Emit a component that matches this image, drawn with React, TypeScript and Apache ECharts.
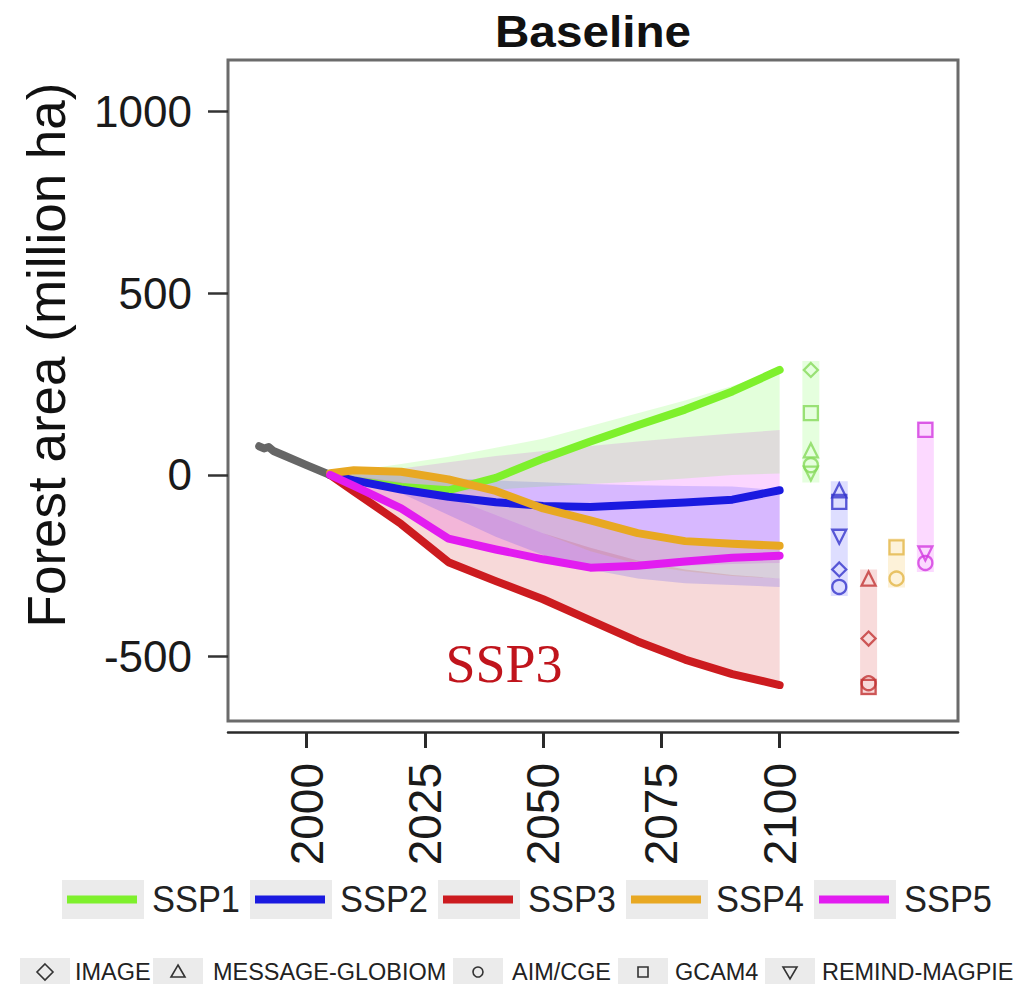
import React, { useEffect, useRef } from "react";
import * as echarts from "echarts";

// ---------- data ----------
const histYears = [1990, 1991, 1992, 1993, 1995, 2000, 2005];
const histValues = [79, 73, 77, 66, 55, 27, 0];

const years = [2005, 2010, 2020, 2030, 2040, 2050, 2060, 2070, 2080, 2090, 2100];

const sspNames = ["SSP1", "SSP2", "SSP3", "SSP4", "SSP5"];

const ssp1Line = [0, -16, -33, -42, -8, 45, 92, 137, 180, 230, 289];
const ssp2Line = [0, -15, -40, -60, -75, -85, -88, -82, -76, -68, -42];
const ssp3Line = [0, -45, -135, -240, -292, -342, -400, -458, -508, -548, -578];
const ssp4Line = [5, 13, 9, -12, -44, -92, -125, -160, -182, -189, -195];
const ssp5Line = [0, -30, -92, -175, -205, -232, -255, -250, -238, -228, -222];

const ssp1Hi = [0, 12, 30, 50, 75, 100, 135, 170, 205, 245, 289];
const ssp1Lo = [0, -16, -33, -44, -40, -32, -25, -18, -10, 0, 4];
const ssp2Hi = [0, 2, 0, -8, -15, -20, -25, -28, -30, -32, -42];
const ssp2Lo = [0, -15, -50, -110, -170, -220, -260, -285, -298, -303, -308];
const ssp3Hi = [0, -3, -20, -60, -110, -160, -200, -235, -260, -275, -285];
const ssp3Lo = [0, -48, -140, -245, -298, -348, -405, -462, -512, -552, -583];
const ssp4Hi = [5, 14, 11, -10, -40, -85, -120, -155, -178, -187, -193];
const ssp4Lo = [0, -5, -25, -60, -110, -160, -210, -245, -265, -278, -285];
const ssp5Hi = [0, 5, 18, 35, 52, 66, 80, 92, 104, 114, 124];
const ssp5Lo = [0, -30, -95, -178, -208, -235, -258, -258, -250, -245, -242];

// 2100 values per model: IMAGE, MESSAGE-GLOBIOM, AIM/CGE, GCAM4, REMIND-MAGPIE
const modelNames = ["IMAGE", "MESSAGE-GLOBIOM", "AIM/CGE", "GCAM4", "REMIND-MAGPIE"];
const ssp1End = [289, 68, 27, 170, 4];
const ssp2End = [-260, -42, -308, -74, -170];
const ssp3End = [-450, -285, -573, -583, null];
const ssp4End = [null, null, -285, -199, null];
const ssp5End = [null, null, -242, 124, -216];
const markerX = [2106.6, 2112.6, 2118.8, 2124.7, 2130.8];

const xTicks = [2000, 2025, 2050, 2075, 2100];
const yTicks = [-500, 0, 500, 1000];

// ---------- styling ----------
const sspColors = ["#7ef02c", "#1a1ae0", "#cc1b1f", "#e8a822", "#e21cf0"];
const bandColors = ["#50ff20", "#2020ff", "#d01010", "#f0a800", "#e800ff"];
const markerColors = ["#86d95a", "#3434cc", "#c23434", "#e2b546", "#d23ae0"];
const modelSymbols = ["diamond", "triangle", "circle", "rect", "triangle"];
const modelRotate = [0, 0, 0, 0, 180];
const FONT = "'Liberation Sans', Arial, Helvetica, sans-serif";

function rgba(hex: string, a: number) {
  const r = parseInt(hex.slice(1, 3), 16);
  const g = parseInt(hex.slice(3, 5), 16);
  const b = parseInt(hex.slice(5, 7), 16);
  return `rgba(${r},${g},${b},${a})`;
}

const lines = [ssp1Line, ssp2Line, ssp3Line, ssp4Line, ssp5Line];
const bandsHi = [ssp1Hi, ssp2Hi, ssp3Hi, ssp4Hi, ssp5Hi];
const bandsLo = [ssp1Lo, ssp2Lo, ssp3Lo, ssp4Lo, ssp5Lo];
const ends = [ssp1End, ssp2End, ssp3End, ssp4End, ssp5End];

export default function App() {
  const ref = useRef<HTMLDivElement>(null);
  useEffect(() => {
    if (!ref.current) return;
    const chart = echarts.init(ref.current, undefined, { renderer: "svg" });

    const series: any[] = [];

    // bands (drawn in this order so that overlaps blend towards grey)
    [4, 2, 3, 1, 0].forEach((i) => {
      series.push({
        type: "custom",
        name: sspNames[i] + " range",
        data: [[2050, 0]],
        z: 1,
        silent: true,
        renderItem: (params: any, api: any) => {
          const pts: number[][] = [];
          for (let k = 0; k < years.length; k++) pts.push(api.coord([years[k], bandsHi[i][k]]));
          for (let k = years.length - 1; k >= 0; k--) pts.push(api.coord([years[k], bandsLo[i][k]]));
          return {
            type: "polygon",
            shape: { points: pts },
            style: { fill: rgba(bandColors[i], 0.16), stroke: null },
          };
        },
      });
    });

    // range bars at right
    sspNames.forEach((name, i) => {
      const vals = ends[i].filter((v) => v !== null) as number[];
      const lo = Math.min(...vals);
      const hi = Math.max(...vals);
      series.push({
        type: "custom",
        name: name + " 2100 range",
        data: [[markerX[i], lo, hi]],
        z: 1,
        silent: true,
        renderItem: (params: any, api: any) => {
          const p1 = api.coord([api.value(0), api.value(1)]);
          const p2 = api.coord([api.value(0), api.value(2)]);
          return {
            type: "rect",
            shape: { x: p1[0] - 8.5, y: p2[1] - 9, width: 17, height: p1[1] - p2[1] + 18 },
            style: { fill: rgba(bandColors[i], 0.15) },
          };
        },
      });
    });

    // historical
    series.push({
      type: "line",
      name: "Historical",
      data: histYears.map((y, k) => [y, histValues[k]]),
      showSymbol: false,
      z: 3,
      lineStyle: { color: "#666666", width: 8, cap: "round", join: "round" },
    });

    // SSP lines
    [0, 1, 2, 3, 4].forEach((i) => {
      series.push({
        type: "line",
        name: sspNames[i],
        data: years.map((y, k) => [y, lines[i][k]]),
        showSymbol: false,
        z: 4 + i,
        lineStyle: { color: sspColors[i], width: 8, cap: "round", join: "round" },
      });
    });

    // model markers at right
    sspNames.forEach((name, i) => {
      const data: any[] = [];
      ends[i].forEach((v, m) => {
        if (v === null) return;
        data.push({
          value: [markerX[i], v],
          name: modelNames[m],
          symbol: modelSymbols[m],
          symbolRotate: modelRotate[m],
        });
      });
      series.push({
        type: "scatter",
        name: name + " models",
        data,
        z: 10,
        symbolSize: 14,
        itemStyle: { color: "rgba(255,255,255,0)", borderColor: markerColors[i], borderWidth: 2.3 },
      });
    });

    // graphics: title, y name, annotation, legends
    const graphics: any[] = [];
    graphics.push({
      type: "text",
      x: 593,
      y: 31,
      style: { text: "Baseline", fontFamily: FONT, fontSize: 45, fontWeight: "bold", fill: "#111", align: "center", verticalAlign: "middle" },
      scaleX: 1.06,
    });
    graphics.push({
      type: "text",
      x: 46,
      y: 355,
      rotation: Math.PI / 2,
      style: { text: "Forest area (million ha)", fontFamily: FONT, fontSize: 53, fill: "#111", align: "center", verticalAlign: "middle" },
    });
    graphics.push({
      type: "text",
      x: 504,
      y: 664,
      style: { text: "SSP3", fontFamily: "'Liberation Serif', 'Times New Roman', serif", fontSize: 54, fill: "#c0141c", align: "center", verticalAlign: "middle" },
    });

    sspNames.forEach((name, i) => {
      const bx = 62 + i * 188;
      graphics.push({ type: "rect", shape: { x: bx, y: 880, width: 82, height: 39 }, style: { fill: "#ebebeb" } });
      graphics.push({
        type: "line",
        shape: { x1: bx + 5, y1: 899.5, x2: bx + 75, y2: 899.5 },
        style: { stroke: sspColors[i], lineWidth: 8 },
      });
      graphics.push({
        type: "text",
        x: bx + 90,
        y: 900,
        scaleX: 0.93,
        style: { text: name, fontFamily: FONT, fontSize: 37, fill: "#222", verticalAlign: "middle" },
      });
    });

    const symX = [45, 178, 478, 643, 790];
    const textX = [75, 213, 512, 675, 822];
    const cy = 972;
    const symStyle = { fill: "none", stroke: "#333", lineWidth: 1.6 };
    modelNames.forEach((name, m) => {
      const sx = symX[m];
      graphics.push({ type: "rect", shape: { x: sx - 25, y: 958, width: 50, height: 26 }, style: { fill: "#ebebeb" } });
      graphics.push({
        type: "text",
        x: textX[m],
        y: cy,
        scaleX: 1.02,
        style: { text: name, fontFamily: FONT, fontSize: 23, fill: "#222", verticalAlign: "middle" },
      });
    });
    graphics.push({ type: "polygon", shape: { points: [[45, cy - 8], [53, cy], [45, cy + 8], [37, cy]] }, style: symStyle });
    graphics.push({ type: "polygon", shape: { points: [[178, cy - 7], [185, cy + 5], [171, cy + 5]] }, style: symStyle });
    graphics.push({ type: "circle", shape: { cx: 478, cy, r: 5 }, style: symStyle });
    graphics.push({ type: "rect", shape: { x: 638, y: cy - 5, width: 10, height: 10 }, style: symStyle });
    graphics.push({ type: "polygon", shape: { points: [[783, cy - 5], [797, cy - 5], [790, cy + 7]] }, style: symStyle });

    const axisText = { fontFamily: FONT, color: "#1a1a1a", formatter: (v: number) => String(v) };

    chart.setOption({
      animation: false,
      backgroundColor: "#ffffff",
      grid: {
        left: 228,
        top: 60,
        width: 730,
        height: 661,
        show: true,
        borderColor: "#6b6b6b",
        borderWidth: 3,
        backgroundColor: "#ffffff",
      },
      xAxis: {
        type: "value",
        min: 1983.4,
        max: 2137.7,
        offset: 11,
        axisLine: { show: true, onZero: false, lineStyle: { color: "#2a2a2a", width: 2.5 } },
        axisTick: { show: true, customValues: xTicks, length: 16, lineStyle: { color: "#2a2a2a", width: 3 } },
        axisLabel: { customValues: xTicks, rotate: 90, fontSize: 46, margin: 31, ...axisText },
        splitLine: { show: false },
      },
      yAxis: {
        type: "value",
        min: -677,
        max: 1142,
        axisLine: { show: false },
        axisTick: { show: true, customValues: yTicks, length: 20, lineStyle: { color: "#333", width: 2.5 } },
        axisLabel: { customValues: yTicks, fontSize: 44, margin: 36, ...axisText },
        splitLine: { show: false },
      },
      graphic: graphics,
      series,
    });

    return () => chart.dispose();
  }, []);

  return <div ref={ref} style={{ position: "fixed", left: 0, top: 0, width: 1018, height: 984, background: "#fff" }} />;
}
